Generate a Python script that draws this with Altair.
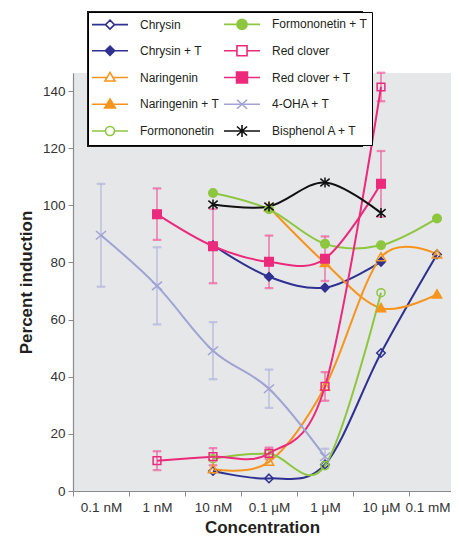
import altair as alt
import pandas as pd

FONT = "Liberation Sans, Arial, sans-serif"

# ---------------- data ----------------
# x positions are log10 of molar concentration: 0.1 nM = -10 ... 0.1 mM = -4
conc_values = [-10, -9, -8, -7, -6, -5, -4]
conc_labels = ["0.1 nM", "1 nM", "10 nM", "0.1 µM", "1 µM", "10 µM", "0.1 mM"]

chrysin_x = [-8, -7, -6, -5, -4]
chrysin_y = [7.0, 4.4, 9.3, 48.3, 82.8]

chrysin_t_x = [-8, -7, -6, -5]
chrysin_t_y = [86.0, 75.0, 71.2, 80.2]

naringenin_x = [-8, -7, -6, -5, -4]
naringenin_y = [7.6, 10.2, 36.5, 81.8, 82.8]

naringenin_t_x = [-7, -6, -5, -4]
naringenin_t_y = [99.3, 79.8, 64.0, 68.8]

formononetin_x = [-8, -7, -6, -5]
formononetin_y = [11.3, 13.0, 8.9, 69.4]

formononetin_t_x = [-8, -7, -6, -5, -4]
formononetin_t_y = [104.3, 98.6, 86.5, 86.0, 95.4]

red_clover_x = [-9, -8, -7, -6, -5]
red_clover_y = [10.6, 12.0, 13.2, 36.6, 141.4]
red_clover_err = [3.3, 3.0, 2.0, 5.0, 5.0]

red_clover_t_x = [-9, -8, -7, -6, -5]
red_clover_t_y = [96.9, 85.7, 80.2, 81.3, 107.5]
red_clover_t_err = [9.0, 13.0, 9.2, 7.8, 11.5]

oha_t_x = [-10, -9, -8, -7, -6]
oha_t_y = [89.5, 71.8, 49.1, 35.8, 12.0]
oha_t_err = [18.0, 13.5, 10.0, 6.7, 2.8]

bpa_t_x = [-8, -7, -6, -5]
bpa_t_y = [100.3, 99.6, 108.0, 97.3]

series_names = ["Chrysin", "Chrysin + T", "Naringenin", "Naringenin + T",
                "Formononetin", "Formononetin + T", "Red clover", "Red clover + T",
                "4-OHA + T", "Bisphenol A + T"]

series_data = [
    (chrysin_x, chrysin_y, None),
    (chrysin_t_x, chrysin_t_y, None),
    (naringenin_x, naringenin_y, None),
    (naringenin_t_x, naringenin_t_y, None),
    (formononetin_x, formononetin_y, None),
    (formononetin_t_x, formononetin_t_y, None),
    (red_clover_x, red_clover_y, red_clover_err),
    (red_clover_t_x, red_clover_t_y, red_clover_t_err),
    (oha_t_x, oha_t_y, oha_t_err),
    (bpa_t_x, bpa_t_y, None),
]

rows = []
for name, (xs, ys, es) in zip(series_names, series_data):
    for i, (xv, yv) in enumerate(zip(xs, ys)):
        rows.append({"series": name, "x": xv, "y": yv,
                     "err": (es[i] if es is not None else 0.0)})
df = pd.DataFrame(rows)

# ---------------- styles ----------------
NAVY, ORANGE, GREEN, PINK, LAV, BLACK = "#2e3192", "#f7941d", "#8dc63f", "#ec2a7c", "#a0a3d3", "#111111"
stroke_colors = [NAVY, NAVY, ORANGE, ORANGE, GREEN, GREEN, PINK, PINK, LAV, BLACK]
fill_colors = ["transparent", NAVY, "transparent", ORANGE, "transparent", GREEN,
               "transparent", PINK, "transparent", BLACK]
line_widths = [2, 2, 1.8, 2, 1.8, 2.2, 1.6, 2, 3, 2]

plot_shapes = [
    "M0,-1.1L1.1,0L0,1.1L-1.1,0Z",
    "M0,-1.1L1.1,0L0,1.1L-1.1,0Z",
    "M0,-1.2L1.2,0.9L-1.2,0.9Z",
    "M0,-1.2L1.2,0.9L-1.2,0.9Z",
    "M1.05,0A1.05,1.05 0 1,1 -1.05,0A1.05,1.05 0 1,1 1.05,0Z",
    "M1.1,0A1.1,1.1 0 1,1 -1.1,0A1.1,1.1 0 1,1 1.1,0Z",
    "M-1,-1H1V1H-1Z",
    "M-1.1,-1.1H1.1V1.1H-1.1Z",
    "M-1.3,-1.1L1.3,1.1M-1.3,1.1L1.3,-1.1",
    "M-1.2,-1L1.2,1M-1.2,1L1.2,-1M0,-1.3V1.3",
]
# legend symbols: 1 unit = 7 px (symbol size 196); line spans 36 px
legend_shapes = [
    "M-2.57,0H-0.64M0.64,0H2.57M0,-0.64L0.64,0L0,0.64L-0.64,0Z",
    "M-2.57,0H2.57M0,-0.66L0.66,0L0,0.66L-0.66,0Z",
    "M-2.57,0H-0.42M0.42,0H2.57M0,-0.72L0.72,0.5L-0.72,0.5Z",
    "M-2.57,0H2.57M0,-0.75L0.76,0.52L-0.76,0.52Z",
    "M-2.57,0H-0.64M0.64,0H2.57M0.64,0A0.64,0.64 0 1,1 -0.64,0A0.64,0.64 0 1,1 0.64,0Z",
    "M-2.57,0H2.57M0.72,0A0.72,0.72 0 1,1 -0.72,0A0.72,0.72 0 1,1 0.72,0Z",
    "M-2.57,0H-0.72M0.72,0H2.57M-0.72,-0.72H0.72V0.72H-0.72Z",
    "M-2.57,0H2.57M-0.78,-0.78H0.78V0.78H-0.78Z",
    "M-2.57,0H2.57M-0.72,-0.64L0.72,0.64M-0.72,0.64L0.72,-0.64",
    "M-2.57,0H2.57M-0.72,-0.64L0.72,0.64M-0.72,0.64L0.72,-0.64M0,-0.86V0.86",
]

PLOT_W, PLOT_H = 378, 418
X_MIN = -10.5
X_MAX = X_MIN + PLOT_W / 56.0
label_expr = ("[" + ",".join("'" + s + "'" for s in conc_labels) + "][round(datum.value - ("
              + str(conc_values[0]) + "))]")

x_enc = alt.X("x:Q", scale=alt.Scale(domain=[X_MIN, X_MAX], nice=False, zero=False),
              axis=alt.Axis(values=conc_values, labelExpr=label_expr,
                            tickOffset=-28, labelOffset=28,
                            labelFlush=20, labelFlushOffset=13, labelOverlap=False, grid=False,
                            title="Concentration", tickSize=5, labelPadding=4,
                            titlePadding=6))
y_enc = alt.Y("y:Q", scale=alt.Scale(domain=[0, 146.3], nice=False, zero=True),
              axis=alt.Axis(values=[0, 20, 40, 60, 80, 100, 120, 140], grid=False,
                            title="Percent induction", tickSize=5, labelPadding=3,
                            titlePadding=7))

base = alt.Chart(df)

err_names = ["Red clover", "Red clover + T", "4-OHA + T"]
err_colors = ["#ef5b9b", "#ef5b9b", "#b3b5dc"]
err_base = base.transform_filter(alt.datum.err > 0).transform_calculate(
    lo="datum.y - datum.err", hi="datum.y + datum.err")
err_stroke = alt.Stroke("series:N", scale=alt.Scale(domain=err_names, range=err_colors), legend=None)
err_rule = err_base.mark_rule(strokeWidth=1.2).encode(
    x=x_enc, y=alt.Y("lo:Q"), y2="hi:Q", stroke=err_stroke)
err_cap_lo = err_base.mark_tick(orient="horizontal", size=8, thickness=1.2).encode(
    x=x_enc, y=alt.Y("lo:Q"), stroke=err_stroke, color=err_stroke)
err_cap_hi = err_base.mark_tick(orient="horizontal", size=8, thickness=1.2).encode(
    x=x_enc, y=alt.Y("hi:Q"), stroke=err_stroke, color=err_stroke)

lines = base.mark_line(interpolate="cardinal", tension=0).encode(
    x=x_enc, y=y_enc,
    stroke=alt.Stroke("series:N", scale=alt.Scale(domain=series_names, range=stroke_colors), legend=None),
    strokeWidth=alt.StrokeWidth("series:N", scale=alt.Scale(domain=series_names, range=line_widths), legend=None),
    order="x:Q",
)

points = base.mark_point(size=60, strokeWidth=1.5, opacity=1).encode(
    x=x_enc, y=y_enc,
    stroke=alt.Stroke("series:N", scale=alt.Scale(domain=series_names, range=stroke_colors), legend=None),
    fill=alt.Fill("series:N", scale=alt.Scale(domain=series_names, range=fill_colors), legend=None),
    shape=alt.Shape("series:N", scale=alt.Scale(domain=series_names, range=plot_shapes), legend=None),
)

# legend box placement (pixels relative to the plot area) and its drop shadow
LEG_X, LEG_Y, LEG_W, LEG_H = 15, -61, 272, 132
shadow = alt.Chart(pd.DataFrame({"k": [0]})).mark_rect(color="#1a1a1a").encode(
    x=alt.value(LEG_X - 1), x2=alt.value(LEG_X + LEG_W + 3),
    y=alt.value(LEG_Y - 1), y2=alt.value(LEG_Y + LEG_H + 3),
)

leg = alt.Legend(title=None, orient="none", legendX=LEG_X, legendY=LEG_Y, columns=2,
                 symbolSize=196, symbolStrokeWidth=1.6, symbolOffset=10,
                 labelFont=FONT, labelFontSize=12,
                 labelColor="#231f20", labelOffset=22, columnPadding=0, rowPadding=8.75,
                 padding=4, fillColor="white", strokeColor="black")
legend_layer = base.transform_filter("false").mark_point(strokeWidth=1.6, opacity=1).encode(
    x=x_enc, y=y_enc,
    stroke=alt.Stroke("series:N", scale=alt.Scale(domain=series_names, range=stroke_colors), legend=leg),
    fill=alt.Fill("series:N", scale=alt.Scale(domain=series_names, range=fill_colors), legend=leg),
    shape=alt.Shape("series:N", scale=alt.Scale(domain=series_names, range=legend_shapes), legend=leg),
)

chart = alt.layer(err_rule, err_cap_lo, err_cap_hi, lines, points, shadow, legend_layer).resolve_scale(
    stroke="independent", fill="independent", shape="independent", color="independent",
    strokeWidth="independent"
).resolve_legend(stroke="independent", fill="independent", shape="independent").properties(
    width=PLOT_W, height=PLOT_H,
    autosize=alt.AutoSizeParams(type="none"),
    padding={"left": 65, "top": 65, "right": 0, "bottom": 46},
).configure_view(fill="#e6e7e8", stroke=None).configure_axis(
    labelFont=FONT, labelFontSize=13.5, labelColor="#333333",
    titleFont=FONT, titleFontSize=17, titleFontWeight="bold", titleColor="#231f20",
    domainColor="#8a8a8a", tickColor="#8a8a8a", domainWidth=1.2,
)

chart.save("out.html", embed_options={"renderer": "svg", "actions": False})
